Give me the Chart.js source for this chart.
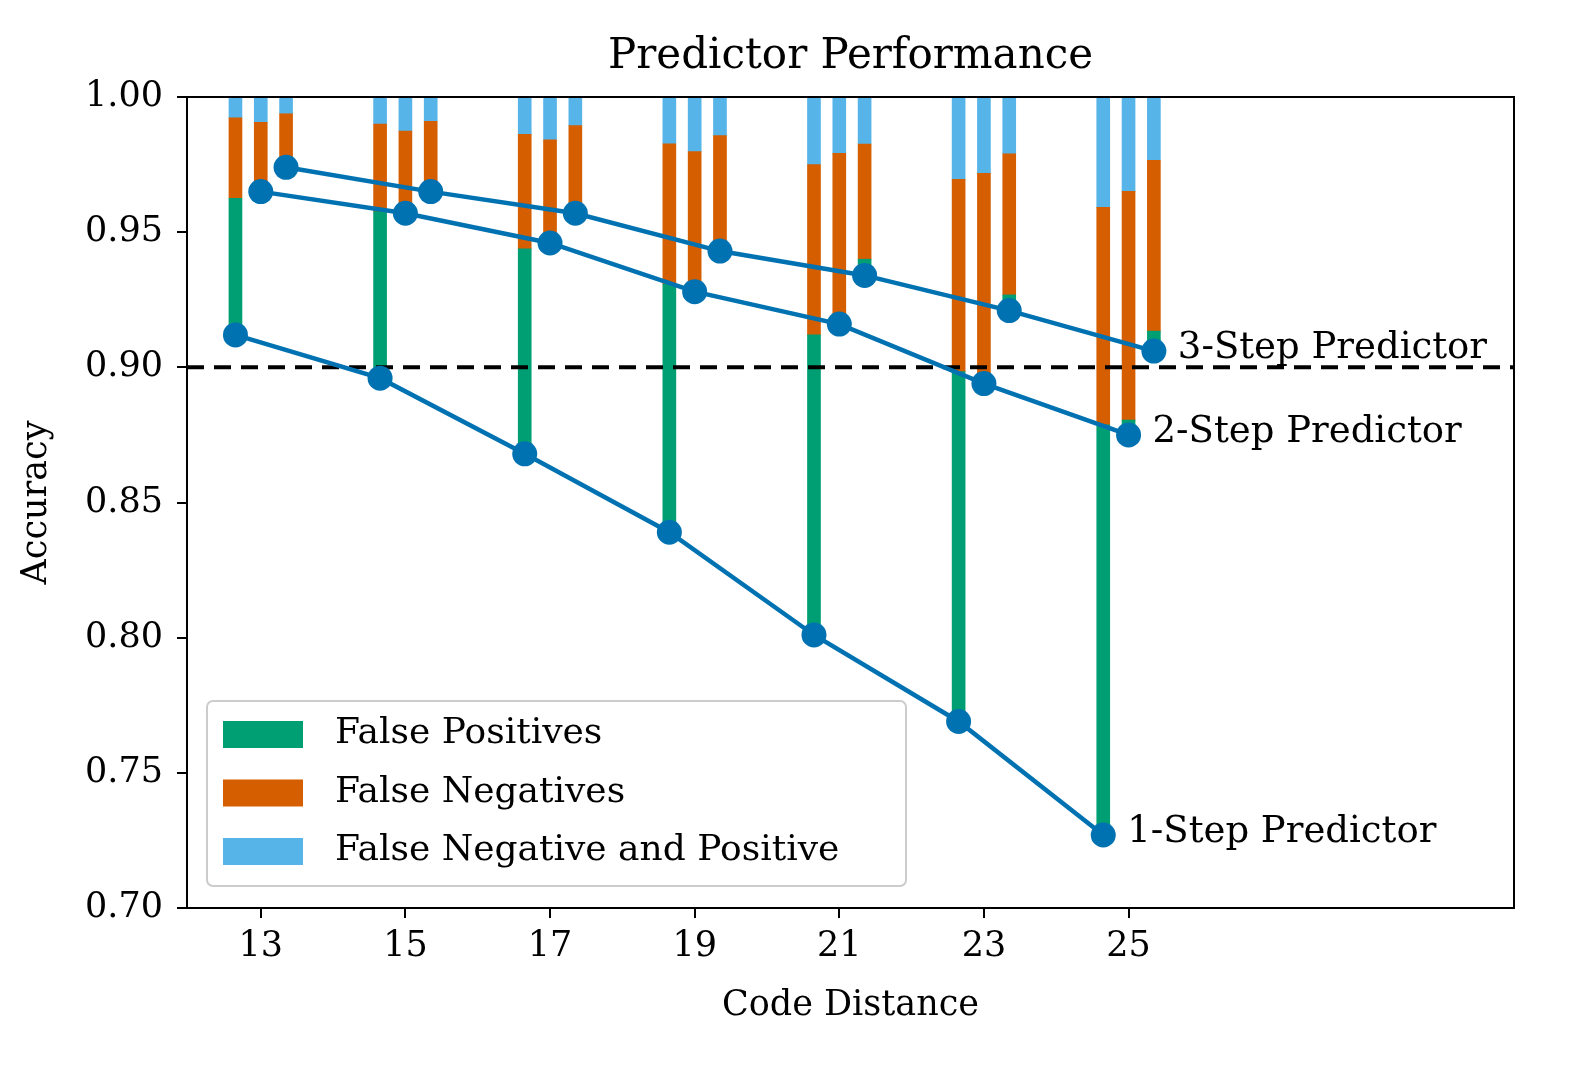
<!DOCTYPE html>
<html>
<head>
<meta charset="utf-8">
<script src="https://cdn.jsdelivr.net/npm/chart.js@4/dist/chart.umd.min.js"></script>
<style>
  body { margin: 0; background: #fff; }
  #wrap { width: 1572px; height: 1072px; }
</style>
</head>
<body>
<div id="wrap"><canvas id="chart" width="1572" height="1072"></canvas></div>
<script>
// Data
const distances = [13, 15, 17, 19, 21, 23, 25];
const stepNames = ['1-Step Predictor', '2-Step Predictor', '3-Step Predictor'];
const stepOffsets = [-0.35, 0, 0.35];

const acc1 = [0.912, 0.896, 0.868, 0.839, 0.801, 0.769, 0.727];
const acc2 = [0.965, 0.957, 0.946, 0.928, 0.916, 0.894, 0.875];
const acc3 = [0.974, 0.965, 0.957, 0.943, 0.934, 0.921, 0.906];

const fp1 = [0.0505, 0.0616, 0.0758, 0.0917, 0.111, 0.1294, 0.1517];
const fp2 = [0.001, 0.001, 0.001, 0.001, 0.001, 0.001, 0.0055];
const fp3 = [0.001, 0.001, 0.001, 0.001, 0.006, 0.0058, 0.0074];

const fn1 = [0.0298, 0.0324, 0.0424, 0.052, 0.063, 0.0711, 0.0805];
const fn2 = [0.0246, 0.0294, 0.0372, 0.0508, 0.0622, 0.0768, 0.0846];
const fn3 = [0.0188, 0.025, 0.0314, 0.0417, 0.0426, 0.0522, 0.0632];

const fnp1 = [0.0077, 0.010, 0.0138, 0.0173, 0.025, 0.0305, 0.0408];
const fnp2 = [0.0094, 0.0126, 0.0158, 0.0202, 0.0208, 0.0282, 0.0349];
const fnp3 = [0.0062, 0.009, 0.0106, 0.0143, 0.0174, 0.021, 0.0234];

const yTicks = [0.70, 0.75, 0.80, 0.85, 0.90, 0.95, 1.00];
const threshold = 0.90;
const xRange = [11.98, 30.33];

const legendLabels = ['False Positives', 'False Negatives', 'False Negative and Positive'];
const colors = { fp: '#009E73', fn: '#D55E00', fnp: '#56B4E9', line: '#0072B2' };
const FONT = '"DejaVu Serif", serif';

const accs = [acc1, acc2, acc3];
const fps = [fp1, fp2, fp3];
const fns = [fn1, fn2, fn3];
const fnps = [fnp1, fnp2, fnp3];

// build floating bar segments
function segs(kind) {
    const out = [];
    for (let s = 0; s < 3; s++) {
        distances.forEach((d, i) => {
            const a = accs[s][i], p = fps[s][i], n = fns[s][i], b = fnps[s][i];
            let lo, hi;
            if (kind === 'fp') { lo = a; hi = a + p; }
            else if (kind === 'fn') { lo = a + p; hi = a + p + n; }
            else { lo = a + p + n; hi = a + p + n + b; }
            out.push({ x: d + stepOffsets[s], y: [lo, hi] });
        });
    }
    return out;
}

const barCommon = { type: 'bar', barThickness: 13, borderWidth: 0, grouped: false, order: 3 };
const datasets = [
    Object.assign({}, barCommon, { label: legendLabels[0], data: segs('fp'), backgroundColor: colors.fp }),
    Object.assign({}, barCommon, { label: legendLabels[1], data: segs('fn'), backgroundColor: colors.fn }),
    Object.assign({}, barCommon, { label: legendLabels[2], data: segs('fnp'), backgroundColor: colors.fnp }),
    {
        type: 'line', label: 'threshold', order: 2,
        data: [{ x: xRange[0], y: threshold }, { x: xRange[1], y: threshold }],
        borderColor: '#000', borderWidth: 4, borderDash: [17, 10], pointRadius: 0
    }
];
for (let s = 0; s < 3; s++) {
    datasets.push({
        type: 'line', label: stepNames[s], order: 1,
        data: distances.map((d, i) => ({ x: d + stepOffsets[s], y: accs[s][i] })),
        borderColor: colors.line, backgroundColor: colors.line, borderWidth: 4.5,
        pointRadius: 12.5, pointHoverRadius: 12.5, pointBorderWidth: 0
    });
}

// frame, title, axis titles, legend and line labels
const decor = {
    id: 'decor',
    afterDraw(chart) {
        const ctx = chart.ctx, a = chart.chartArea;
        ctx.save();
        ctx.strokeStyle = '#000';
        ctx.lineWidth = 2;
        ctx.strokeRect(a.left, a.top, a.right - a.left, a.bottom - a.top);

        ctx.fillStyle = '#000';
        ctx.textAlign = 'center';
        ctx.textBaseline = 'middle';
        ctx.font = '42px ' + FONT;
        ctx.fillText('Predictor Performance', (a.left + a.right) / 2, 57);
        ctx.font = '35px ' + FONT;
        ctx.fillText('Code Distance', (a.left + a.right) / 2, 1006);
        ctx.save();
        ctx.translate(37, (a.top + a.bottom) / 2);
        ctx.rotate(-Math.PI / 2);
        ctx.fillText('Accuracy', 0, 0);
        ctx.restore();

        // labels at the last point of each line
        ctx.textAlign = 'left';
        ctx.font = '37px ' + FONT;
        for (let s = 0; s < 3; s++) {
            const meta = chart.getDatasetMeta(4 + s);
            const pt = meta.data[meta.data.length - 1];
            ctx.fillText(stepNames[s], pt.x + 24, pt.y - 3);
        }

        // legend
        const lx = 207, ly = 701, lw = 699, lh = 185;
        ctx.fillStyle = 'rgba(255,255,255,0.8)';
        ctx.strokeStyle = '#ccc';
        ctx.lineWidth = 2;
        ctx.beginPath();
        ctx.roundRect(lx, ly, lw, lh, 6);
        ctx.fill();
        ctx.stroke();
        const legColors = [colors.fp, colors.fn, colors.fnp];
        ctx.font = '36px ' + FONT;
        legendLabels.forEach((t, i) => {
            const cy = 734 + i * 58.5;
            ctx.fillStyle = legColors[i];
            ctx.fillRect(223, cy - 13, 80, 27);
            ctx.fillStyle = '#000';
            ctx.fillText(t, 335, cy);
        });
        ctx.restore();
    }
};

new Chart(document.getElementById('chart'), {
    data: { datasets: datasets },
    options: {
        responsive: false,
        devicePixelRatio: 1,
        animation: false,
        layout: { padding: { top: 97, right: 58, left: 0, bottom: 0 } },
        plugins: { legend: { display: false }, tooltip: { enabled: false }, title: { display: false } },
        scales: {
            x: {
                type: 'linear', min: xRange[0], max: xRange[1], offset: false,
                afterFit(scale) { scale.height = 1072 - 908; },
                afterBuildTicks(scale) { scale.ticks = distances.map(v => ({ value: v })); },
                grid: { offset: false, drawOnChartArea: false, tickLength: 10, color: '#000', lineWidth: 2 },
                border: { display: true, color: '#000', width: 2 },
                ticks: { color: '#000', font: { family: FONT, size: 35 }, padding: 8, maxRotation: 0 }
            },
            y: {
                type: 'linear', min: 0.70, max: 1.00,
                afterFit(scale) { scale.width = 187; },
                afterBuildTicks(scale) { scale.ticks = yTicks.map(v => ({ value: v })); },
                grid: { drawOnChartArea: false, tickLength: 10, color: '#000', lineWidth: 2 },
                border: { display: true, color: '#000', width: 2 },
                ticks: { color: '#000', font: { family: FONT, size: 35 }, padding: 14, callback: v => v.toFixed(2) }
            }
        }
    },
    plugins: [decor]
});
</script>
</body>
</html>
